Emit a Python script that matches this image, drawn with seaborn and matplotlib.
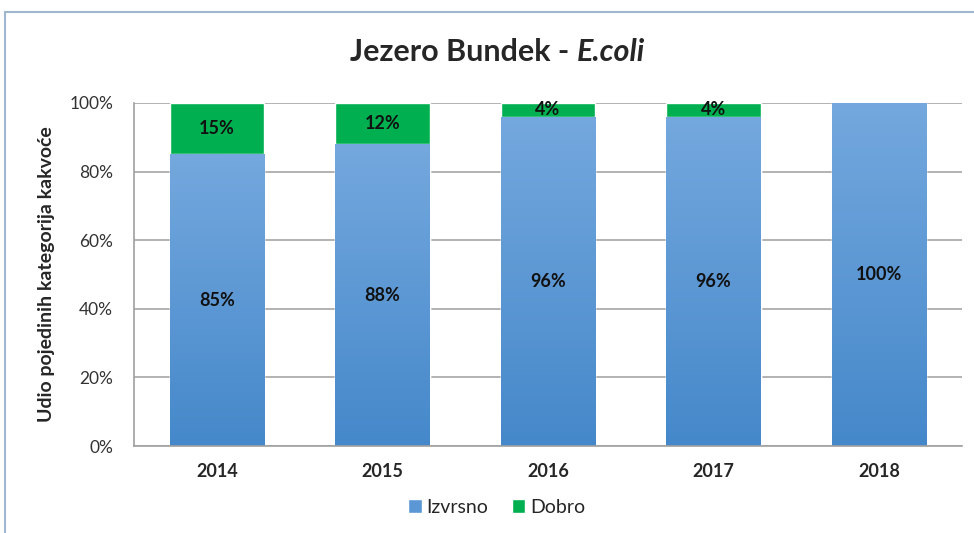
import numpy as np
import pandas as pd
import seaborn as sns
import matplotlib.pyplot as plt
from matplotlib.patches import Rectangle, Patch
from matplotlib.colors import LinearSegmentedColormap

years = ['2014', '2015', '2016', '2017', '2018']
izvrsno = [85, 88, 96, 96, 100]
dobro = [15, 12, 4, 4, 0]

sns.set_style('white')
plt.rcParams['font.family'] = ['Lato', 'DejaVu Sans']

df = pd.DataFrame({'year': years, 'Izvrsno': izvrsno, 'Dobro': dobro})
df['total'] = df['Izvrsno'] + df['Dobro']

green = '#00b050'
blue_top = '#74a8de'
blue_bot = '#4588ca'

fig = plt.figure(figsize=(9.74, 5.33), dpi=100)
ax = fig.add_axes([0.1376, 0.1632, 0.85, 0.6436])

# stacked: totals in green, then Izvrsno over it
sns.barplot(data=df, x='year', y='total', color=green, width=0.57,
            saturation=1, ax=ax, zorder=2)
n_green = len(ax.patches)
sns.barplot(data=df, x='year', y='Izvrsno', color=blue_bot, width=0.57,
            saturation=1, ax=ax, zorder=2)

# gradient fill on the blue bars
cmap = LinearSegmentedColormap.from_list('g', [blue_bot, blue_top])
grad = np.linspace(0, 1, 256).reshape(-1, 1)
for p in ax.patches[n_green:]:
    x0, y0 = p.get_x(), p.get_y()
    w, h = p.get_width(), p.get_height()
    im = ax.imshow(grad, cmap=cmap, aspect='auto', origin='lower',
                   extent=[x0, x0 + w, y0, y0 + h], zorder=2.5)
    im.set_clip_path(p)

ax.set_xlim(-0.5, 4.5)
ax.set_ylim(0, 100)
ax.set_yticks(range(0, 101, 20))
ax.set_yticklabels([f'{v}%' for v in range(0, 101, 20)], fontsize=12.5, color='#333333')
ax.set_xticks(range(len(years)))
ax.set_xticklabels(years, fontsize=13, fontweight='bold')
ax.tick_params(axis='y', pad=15, length=0)
ax.tick_params(axis='x', pad=12, length=0)
ax.yaxis.grid(True, color='#a6a6a6', lw=1.2, zorder=0)
ax.set_axisbelow(True)
for s in ['top', 'right']:
    ax.spines[s].set_visible(False)
for s in ['left', 'bottom']:
    ax.spines[s].set_color('#a0a0a0')
    ax.spines[s].set_linewidth(1.2)
ax.set_xlabel('')
ax.set_ylabel('Udio pojedinih kategorija kakvoće', fontsize=14, fontweight='bold')
ax.yaxis.set_label_coords(-0.096, 0.5)

# value labels
for i, (a, b) in enumerate(zip(izvrsno, dobro)):
    ax.text(i, a / 2, f'{a}%', ha='center', va='center', fontsize=13,
            fontweight='bold', color='#111111', zorder=4)
    if b > 0:
        ax.text(i, a + b / 2, f'{b}%', ha='center', va='center', fontsize=13,
                fontweight='bold', color='#111111', zorder=4)

# title with italic part
t1 = fig.text(0, 0.902, 'Jezero Bundek - ', fontsize=22, fontweight='bold', va='center')
t2 = fig.text(0, 0.902, 'E.coli', fontsize=22, fontweight='bold', style='italic', va='center')
fig.canvas.draw()
r = fig.canvas.get_renderer()
w1 = t1.get_window_extent(r).width / fig.bbox.width
w2 = t2.get_window_extent(r).width / fig.bbox.width
x_start = 0.511 - (w1 + w2) / 2
t1.set_x(x_start)
t2.set_x(x_start + w1)

# legend
handles = [Patch(facecolor='#5b97d4', label='Izvrsno'), Patch(facecolor=green, label='Dobro')]
fig.legend(handles=handles, loc='center', bbox_to_anchor=(0.51, 0.048), ncol=2,
           frameon=False, fontsize=14, handlelength=0.7, handleheight=0.7,
           handletextpad=0.25, columnspacing=1.2)

# outer chart frame (only left/top visible in reference)
fig.patches.append(Rectangle((0.005, -0.05), 1.2, 1.027, transform=fig.transFigure,
                             fill=False, edgecolor='#9fb6cf', lw=1.5))

fig.savefig('out.png', dpi=100)
